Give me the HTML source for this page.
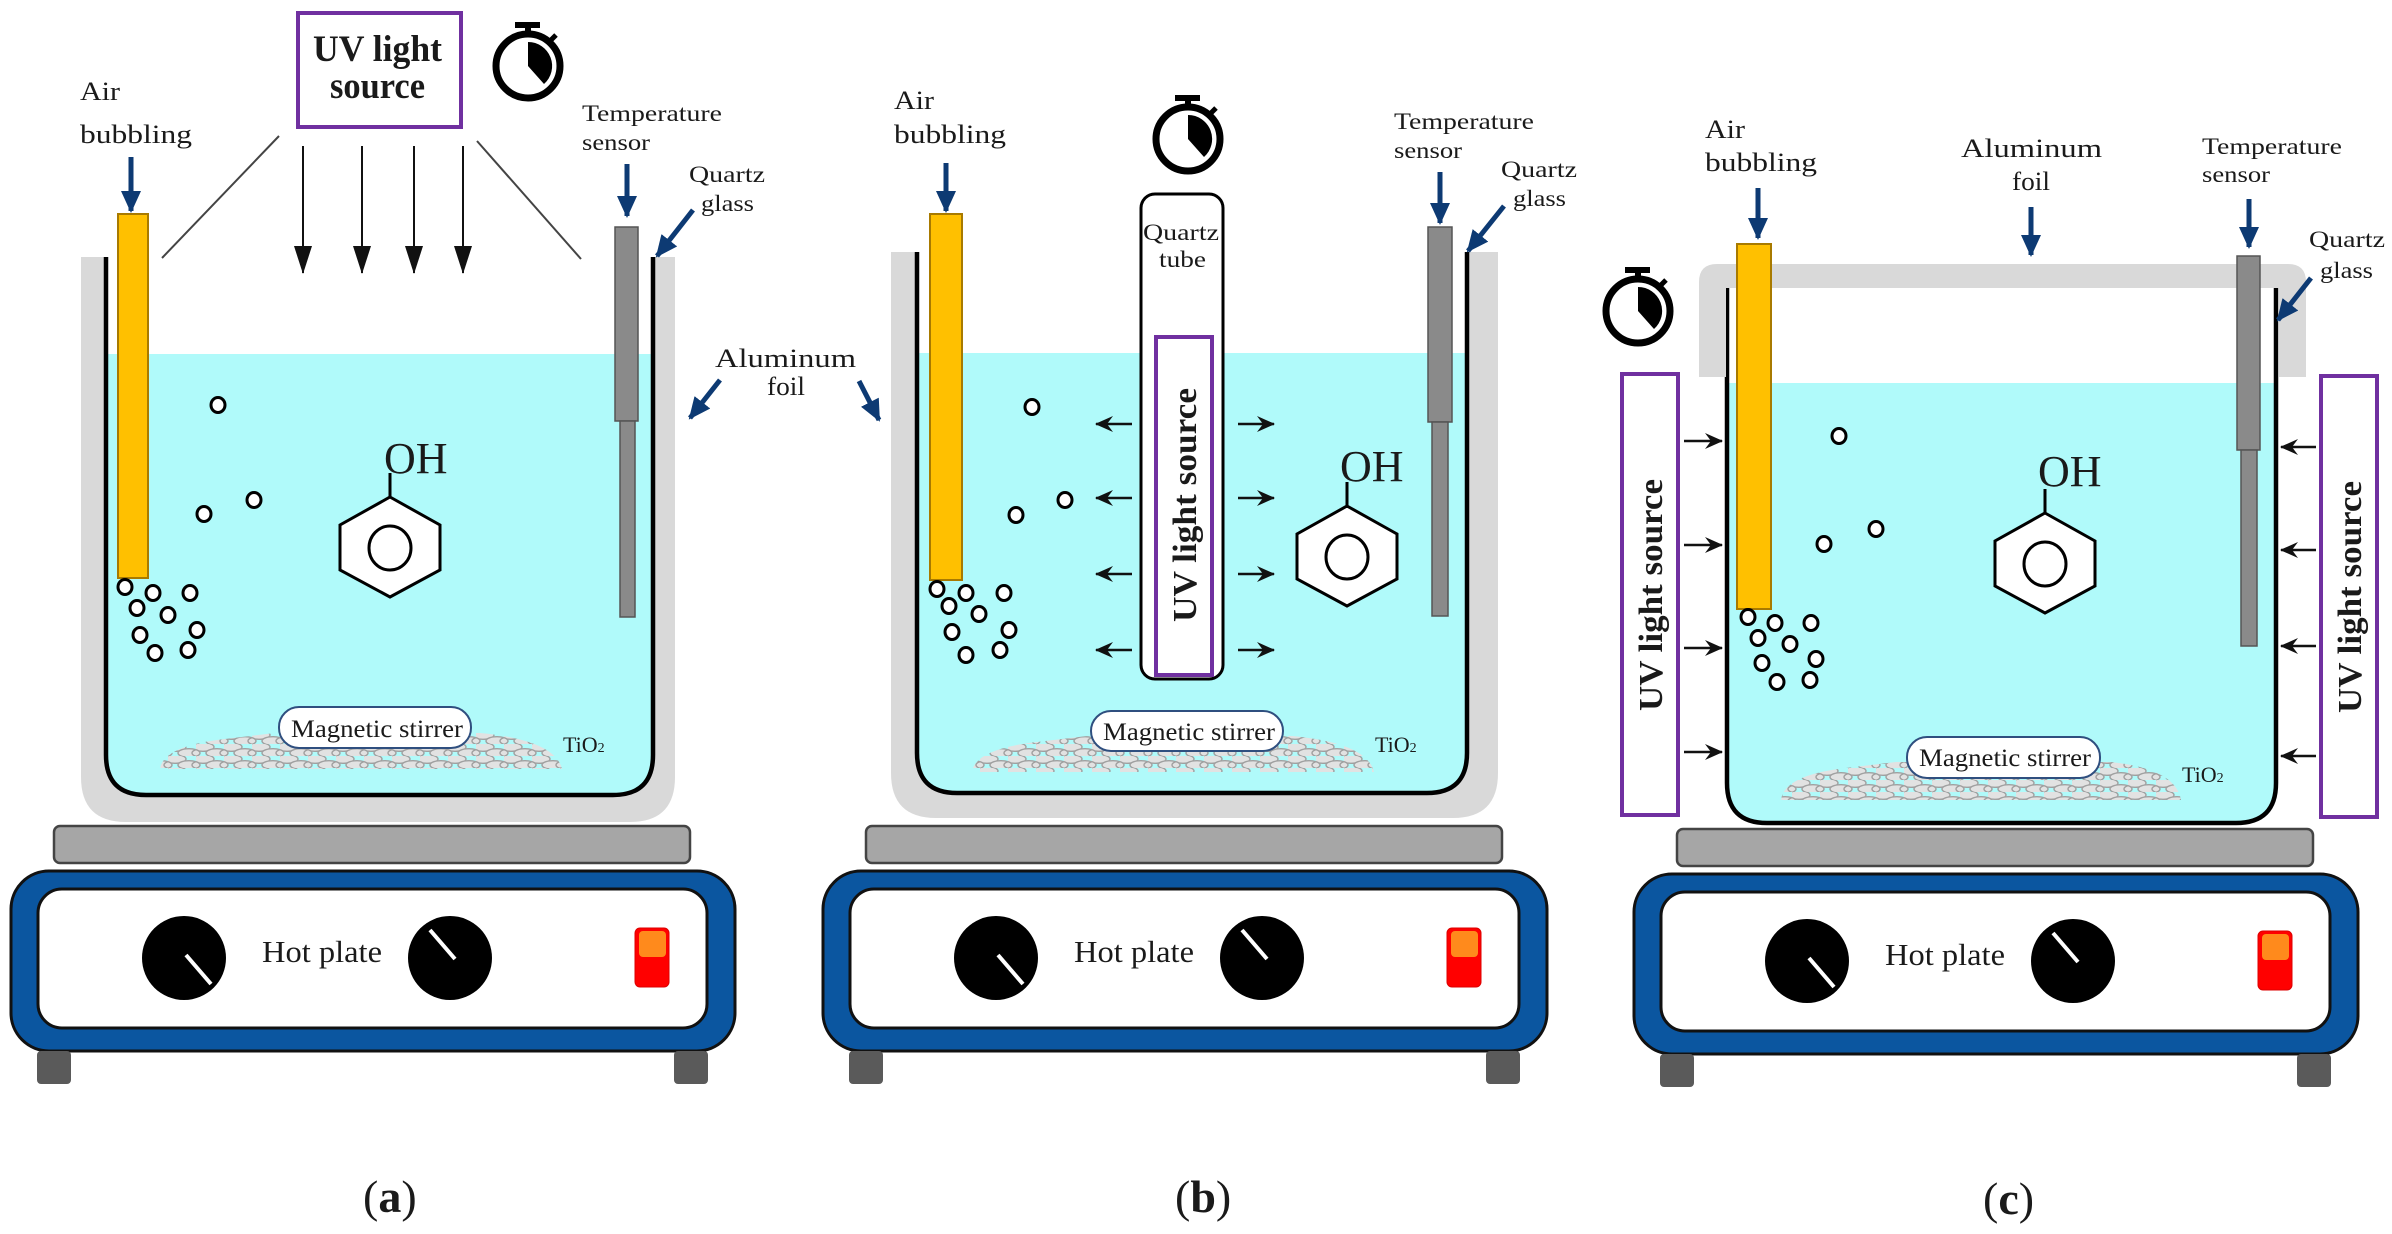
<!DOCTYPE html>
<html><head><meta charset="utf-8"><style>
html,body{margin:0;padding:0;background:#fff;}
svg{display:block;}
text{font-family:"Liberation Serif",serif;fill:#1a1a1a;}
</style></head><body>
<svg width="2392" height="1234" viewBox="0 0 2392 1234" xmlns="http://www.w3.org/2000/svg">
<defs>
<marker id="na" markerUnits="userSpaceOnUse" markerWidth="22" markerHeight="20" refX="20" refY="10" orient="auto"><path d="M0,0 L22,10 L0,20 z" fill="#0d3a73"/></marker>
<marker id="ta" markerUnits="userSpaceOnUse" markerWidth="28" markerHeight="18" refX="27" refY="9" orient="auto"><path d="M0,0 L28,9 L0,18 z" fill="#111"/></marker>
<marker id="sa" markerUnits="userSpaceOnUse" markerWidth="18" markerHeight="16" refX="17" refY="8" orient="auto"><path d="M0,0 L18,8 L0,16 L6,8 z" fill="#111"/></marker>
<pattern id="tio" patternUnits="userSpaceOnUse" width="28" height="12">
<ellipse cx="7" cy="3" rx="11" ry="4.3" fill="#e2e2e2" stroke="#a0a0a0" stroke-width="1.4"/>
<ellipse cx="21" cy="9" rx="11" ry="4.3" fill="#e2e2e2" stroke="#a0a0a0" stroke-width="1.4"/>
<ellipse cx="-7" cy="9" rx="11" ry="4.3" fill="#e2e2e2" stroke="#a0a0a0" stroke-width="1.4"/>
<ellipse cx="35" cy="9" rx="11" ry="4.3" fill="#e2e2e2" stroke="#a0a0a0" stroke-width="1.4"/>
</pattern>
<g id="sw">
<circle cx="0" cy="0" r="32" fill="#fff" stroke="#000" stroke-width="7"/>
<rect x="-13" y="-44" width="25" height="6" fill="#000"/>
<rect x="-3" y="-40" width="6" height="6" fill="#000"/>
<line x1="21" y1="-24" x2="28" y2="-31" stroke="#000" stroke-width="5"/>
<path d="M0,0 L0,-24 A24,24 0 0 1 16,18 Z" fill="#000"/>
</g>
<g id="hex">
<polygon points="0,-50 50,-22 50,23 0,50 -50,23 -50,-22" fill="#fff" stroke="#000" stroke-width="3"/>
<ellipse cx="0" cy="1" rx="21" ry="22" fill="none" stroke="#000" stroke-width="3"/>
<line x1="0" y1="-50" x2="0" y2="-74" stroke="#000" stroke-width="3"/>
</g>
<g id="hp">
<rect x="54" y="826" width="636" height="37" rx="6" fill="#a6a6a6" stroke="#444" stroke-width="2.5"/>
<rect x="11" y="871" width="724" height="180" rx="38" fill="#0b56a0" stroke="#111" stroke-width="3"/>
<rect x="38" y="889" width="669" height="139" rx="24" fill="#fff" stroke="#111" stroke-width="3"/>
<circle cx="184" cy="958" r="42" fill="#000"/>
<line x1="186" y1="955" x2="211" y2="984" stroke="#fff" stroke-width="4"/>
<circle cx="450" cy="958" r="42" fill="#000"/>
<line x1="430" y1="930" x2="455" y2="959" stroke="#fff" stroke-width="4"/>
<rect x="635" y="928" width="34" height="59" rx="5" fill="#ff0000" stroke="#d00" stroke-width="1"/>
<rect x="639" y="931" width="27" height="26" rx="4" fill="#ff8a1c"/>
<rect x="37" y="1051" width="34" height="33" rx="4" fill="#5a5a5a"/>
<rect x="674" y="1051" width="34" height="33" rx="4" fill="#5a5a5a"/>
</g>
</defs>

<!-- ================= (a) ================= -->
<path d="M81,257 L81,777 Q81,822 126,822 L630,822 Q675,822 675,777 L675,257 Z" fill="#d9d9d9"/>
<path d="M106,257 L106,755 Q106,795 146,795 L613,795 Q653,795 653,755 L653,257 Z" fill="#fff"/>
<path d="M106,354 L106,755 Q106,795 146,795 L613,795 Q653,795 653,755 L653,354 Z" fill="#b0fafa"/>
<path d="M106,257 L106,755 Q106,795 146,795 L613,795 Q653,795 653,755 L653,257" fill="none" stroke="#000" stroke-width="4.5"/>
<path d="M160,769 Q163,746 225,739 L275,733 L480,733 Q555,740 562,769 Z" fill="url(#tio)"/>
<rect x="279" y="707" width="192" height="41" rx="20" fill="#fff" stroke="#2f4f7f" stroke-width="2"/>
<text x="291" y="737" font-size="25" textLength="172" lengthAdjust="spacingAndGlyphs">Magnetic stirrer</text>
<text x="563" y="752" font-size="22">TiO<tspan font-size="14">2</tspan></text>
<rect x="118" y="214" width="30" height="364" fill="#ffc000" stroke="#a87a00" stroke-width="2"/>
<rect x="615" y="227" width="23" height="194" fill="#8a8a8a" stroke="#555" stroke-width="1.5"/>
<rect x="620" y="421" width="15" height="196" fill="#8a8a8a" stroke="#555" stroke-width="1.5"/>
<g fill="#fff" stroke="#000" stroke-width="3">
<ellipse cx="218" cy="405" rx="7" ry="7.5"/><ellipse cx="254" cy="500" rx="7" ry="7.5"/><ellipse cx="204" cy="514" rx="7" ry="7.5"/>
<ellipse cx="125" cy="587" rx="7" ry="7.5"/><ellipse cx="153" cy="593" rx="7" ry="7.5"/><ellipse cx="190" cy="593" rx="7" ry="7.5"/>
<ellipse cx="137" cy="608" rx="7" ry="7.5"/><ellipse cx="168" cy="615" rx="7" ry="7.5"/><ellipse cx="140" cy="635" rx="7" ry="7.5"/>
<ellipse cx="197" cy="630" rx="7" ry="7.5"/><ellipse cx="155" cy="653" rx="7" ry="7.5"/><ellipse cx="188" cy="650" rx="7" ry="7.5"/>
</g>
<use href="#hex" x="390" y="547"/>
<text x="384" y="473" font-size="44">OH</text>
<rect x="298" y="13" width="163" height="114" fill="#fff" stroke="#7030a0" stroke-width="4"/>
<text x="313" y="61" font-size="37" font-weight="bold" textLength="129" lengthAdjust="spacingAndGlyphs">UV light</text>
<text x="330" y="98" font-size="37" font-weight="bold" textLength="95" lengthAdjust="spacingAndGlyphs">source</text>
<use href="#sw" x="528" y="66"/>
<line x1="279" y1="136" x2="162" y2="258" stroke="#444" stroke-width="2"/>
<line x1="477" y1="141" x2="581" y2="259" stroke="#444" stroke-width="2"/>
<g stroke="#111" stroke-width="2" marker-end="url(#ta)">
<line x1="303" y1="146" x2="303" y2="273"/><line x1="362" y1="146" x2="362" y2="273"/>
<line x1="414" y1="146" x2="414" y2="273"/><line x1="463" y1="146" x2="463" y2="273"/>
</g>
<text x="80" y="100" font-size="26" textLength="40" lengthAdjust="spacingAndGlyphs">Air</text>
<text x="80" y="143" font-size="26" textLength="112" lengthAdjust="spacingAndGlyphs">bubbling</text>
<text x="582" y="121" font-size="23" textLength="140" lengthAdjust="spacingAndGlyphs">Temperature</text>
<text x="582" y="150" font-size="23" textLength="68" lengthAdjust="spacingAndGlyphs">sensor</text>
<text x="689" y="182" font-size="23" textLength="76" lengthAdjust="spacingAndGlyphs">Quartz</text>
<text x="701" y="211" font-size="23" textLength="53" lengthAdjust="spacingAndGlyphs">glass</text>
<g stroke="#0d3a73" stroke-width="5" marker-end="url(#na)">
<line x1="131" y1="157" x2="131" y2="211"/>
<line x1="627" y1="164" x2="627" y2="216"/>
<line x1="693" y1="210" x2="657" y2="256"/>
<line x1="720" y1="380" x2="690" y2="418"/>
<line x1="859" y1="381" x2="879" y2="420"/>
</g>
<text x="715" y="367" font-size="26" textLength="141" lengthAdjust="spacingAndGlyphs">Aluminum</text>
<text x="767" y="395" font-size="26" textLength="38" lengthAdjust="spacingAndGlyphs">foil</text>
<use href="#hp"/>
<text x="262" y="962" font-size="31" textLength="120" lengthAdjust="spacingAndGlyphs">Hot plate</text>
<text x="363" y="1212" font-size="46">(<tspan font-weight="bold">a</tspan>)</text>

<!-- ================= (b) ================= -->
<path d="M891,252 L891,773 Q891,818 936,818 L1453,818 Q1498,818 1498,773 L1498,252 Z" fill="#d9d9d9"/>
<path d="M917,252 L917,753 Q917,793 957,793 L1427,793 Q1467,793 1467,753 L1467,252 Z" fill="#fff"/>
<path d="M917,353 L917,753 Q917,793 957,793 L1427,793 Q1467,793 1467,753 L1467,353 Z" fill="#b0fafa"/>
<path d="M917,252 L917,753 Q917,793 957,793 L1427,793 Q1467,793 1467,753 L1467,252" fill="none" stroke="#000" stroke-width="4.5"/>
<path d="M972,772 Q975,749 1037,742 L1087,736 L1292,736 Q1367,743 1374,772 Z" fill="url(#tio)"/>
<rect x="1091" y="711" width="192" height="40" rx="20" fill="#fff" stroke="#2f4f7f" stroke-width="2"/>
<text x="1103" y="740" font-size="25" textLength="172" lengthAdjust="spacingAndGlyphs">Magnetic stirrer</text>
<text x="1375" y="752" font-size="22">TiO<tspan font-size="14">2</tspan></text>
<rect x="930" y="214" width="32" height="366" fill="#ffc000" stroke="#a87a00" stroke-width="2"/>
<rect x="1428" y="227" width="24" height="195" fill="#8a8a8a" stroke="#555" stroke-width="1.5"/>
<rect x="1432" y="422" width="16" height="194" fill="#8a8a8a" stroke="#555" stroke-width="1.5"/>
<g fill="#fff" stroke="#000" stroke-width="3">
<ellipse cx="1032" cy="407" rx="7" ry="7.5"/><ellipse cx="1065" cy="500" rx="7" ry="7.5"/><ellipse cx="1016" cy="515" rx="7" ry="7.5"/>
<ellipse cx="937" cy="589" rx="7" ry="7.5"/><ellipse cx="966" cy="593" rx="7" ry="7.5"/><ellipse cx="1004" cy="593" rx="7" ry="7.5"/>
<ellipse cx="949" cy="606" rx="7" ry="7.5"/><ellipse cx="979" cy="614" rx="7" ry="7.5"/><ellipse cx="952" cy="632" rx="7" ry="7.5"/>
<ellipse cx="1009" cy="630" rx="7" ry="7.5"/><ellipse cx="966" cy="655" rx="7" ry="7.5"/><ellipse cx="1000" cy="650" rx="7" ry="7.5"/>
</g>
<use href="#hex" x="1347" y="556"/>
<text x="1340" y="481" font-size="44">OH</text>
<rect x="1141" y="194" width="82" height="485" rx="14" fill="#fff" stroke="#000" stroke-width="3"/>
<rect x="1156" y="337" width="56" height="338" fill="#fff" stroke="#7030a0" stroke-width="4"/>
<text x="1143" y="240" font-size="23" textLength="76" lengthAdjust="spacingAndGlyphs">Quartz</text>
<text x="1159" y="267" font-size="23" textLength="47" lengthAdjust="spacingAndGlyphs">tube</text>
<text transform="translate(1196,622) rotate(-90)" font-size="34" font-weight="bold" textLength="234" lengthAdjust="spacingAndGlyphs">UV light source</text>
<use href="#sw" x="1188" y="139"/>
<g stroke="#111" stroke-width="2.5" marker-end="url(#sa)">
<line x1="1132" y1="424" x2="1096" y2="424"/><line x1="1132" y1="498" x2="1096" y2="498"/>
<line x1="1132" y1="574" x2="1096" y2="574"/><line x1="1132" y1="650" x2="1096" y2="650"/>
<line x1="1238" y1="424" x2="1274" y2="424"/><line x1="1238" y1="498" x2="1274" y2="498"/>
<line x1="1238" y1="574" x2="1274" y2="574"/><line x1="1238" y1="650" x2="1274" y2="650"/>
</g>
<text x="894" y="109" font-size="26" textLength="40" lengthAdjust="spacingAndGlyphs">Air</text>
<text x="894" y="143" font-size="26" textLength="112" lengthAdjust="spacingAndGlyphs">bubbling</text>
<text x="1394" y="129" font-size="23" textLength="140" lengthAdjust="spacingAndGlyphs">Temperature</text>
<text x="1394" y="158" font-size="23" textLength="68" lengthAdjust="spacingAndGlyphs">sensor</text>
<text x="1501" y="177" font-size="23" textLength="76" lengthAdjust="spacingAndGlyphs">Quartz</text>
<text x="1513" y="206" font-size="23" textLength="53" lengthAdjust="spacingAndGlyphs">glass</text>
<g stroke="#0d3a73" stroke-width="5" marker-end="url(#na)">
<line x1="946" y1="163" x2="946" y2="211"/>
<line x1="1440" y1="172" x2="1440" y2="223"/>
<line x1="1504" y1="206" x2="1468" y2="251"/>
</g>
<use href="#hp" x="812"/>
<text x="1074" y="962" font-size="31" textLength="120" lengthAdjust="spacingAndGlyphs">Hot plate</text>
<text x="1175" y="1212" font-size="46">(<tspan font-weight="bold">b</tspan>)</text>

<!-- ================= (c) ================= -->
<path d="M1727,288 L1727,783 Q1727,823 1767,823 L2236,823 Q2276,823 2276,783 L2276,288 Z" fill="#fff"/>
<path d="M1727,383 L1727,783 Q1727,823 1767,823 L2236,823 Q2276,823 2276,783 L2276,383 Z" fill="#b0fafa"/>
<path d="M1727,288 L1727,783 Q1727,823 1767,823 L2236,823 Q2276,823 2276,783 L2276,288" fill="none" stroke="#000" stroke-width="4.5"/>
<path d="M1699,377 L1699,282 Q1699,264 1717,264 L2288,264 Q2306,264 2306,282 L2306,377 L2279,377 L2279,288 L1726,288 L1726,377 Z" fill="#d9d9d9"/>
<path d="M1781,800 Q1784,775 1846,768 L1896,762 L2111,762 Q2176,769 2181,800 Z" fill="url(#tio)"/>
<rect x="1907" y="737" width="193" height="41" rx="20" fill="#fff" stroke="#2f4f7f" stroke-width="2"/>
<text x="1919" y="766" font-size="25" textLength="172" lengthAdjust="spacingAndGlyphs">Magnetic stirrer</text>
<text x="2182" y="782" font-size="22">TiO<tspan font-size="14">2</tspan></text>
<rect x="1737" y="244" width="34" height="365" fill="#ffc000" stroke="#a87a00" stroke-width="2"/>
<rect x="2237" y="256" width="23" height="194" fill="#8a8a8a" stroke="#555" stroke-width="1.5"/>
<rect x="2241" y="450" width="16" height="196" fill="#8a8a8a" stroke="#555" stroke-width="1.5"/>
<g fill="#fff" stroke="#000" stroke-width="3">
<ellipse cx="1839" cy="436" rx="7" ry="7.5"/><ellipse cx="1876" cy="529" rx="7" ry="7.5"/><ellipse cx="1824" cy="544" rx="7" ry="7.5"/>
<ellipse cx="1748" cy="617" rx="7" ry="7.5"/><ellipse cx="1775" cy="623" rx="7" ry="7.5"/><ellipse cx="1811" cy="623" rx="7" ry="7.5"/>
<ellipse cx="1758" cy="638" rx="7" ry="7.5"/><ellipse cx="1790" cy="644" rx="7" ry="7.5"/><ellipse cx="1762" cy="663" rx="7" ry="7.5"/>
<ellipse cx="1816" cy="659" rx="7" ry="7.5"/><ellipse cx="1777" cy="682" rx="7" ry="7.5"/><ellipse cx="1810" cy="680" rx="7" ry="7.5"/>
</g>
<use href="#hex" x="2045" y="563"/>
<text x="2038" y="486" font-size="44">OH</text>
<rect x="1622" y="374" width="56" height="441" fill="#fff" stroke="#7030a0" stroke-width="4"/>
<rect x="2321" y="376" width="56" height="441" fill="#fff" stroke="#7030a0" stroke-width="4"/>
<text transform="translate(1662,711) rotate(-90)" font-size="34" font-weight="bold" textLength="232" lengthAdjust="spacingAndGlyphs">UV light source</text>
<text transform="translate(2361,713) rotate(-90)" font-size="34" font-weight="bold" textLength="232" lengthAdjust="spacingAndGlyphs">UV light source</text>
<use href="#sw" x="1638" y="311"/>
<g stroke="#111" stroke-width="2.5" marker-end="url(#sa)">
<line x1="1684" y1="441" x2="1722" y2="441"/><line x1="1684" y1="545" x2="1722" y2="545"/>
<line x1="1684" y1="648" x2="1722" y2="648"/><line x1="1684" y1="752" x2="1722" y2="752"/>
<line x1="2316" y1="447" x2="2281" y2="447"/><line x1="2316" y1="550" x2="2281" y2="550"/>
<line x1="2316" y1="646" x2="2281" y2="646"/><line x1="2316" y1="756" x2="2281" y2="756"/>
</g>
<text x="1705" y="138" font-size="26" textLength="40" lengthAdjust="spacingAndGlyphs">Air</text>
<text x="1705" y="171" font-size="26" textLength="112" lengthAdjust="spacingAndGlyphs">bubbling</text>
<text x="1961" y="157" font-size="26" textLength="141" lengthAdjust="spacingAndGlyphs">Aluminum</text>
<text x="2012" y="190" font-size="26" textLength="38" lengthAdjust="spacingAndGlyphs">foil</text>
<text x="2202" y="154" font-size="23" textLength="140" lengthAdjust="spacingAndGlyphs">Temperature</text>
<text x="2202" y="182" font-size="23" textLength="68" lengthAdjust="spacingAndGlyphs">sensor</text>
<text x="2309" y="247" font-size="23" textLength="76" lengthAdjust="spacingAndGlyphs">Quartz</text>
<text x="2320" y="278" font-size="23" textLength="53" lengthAdjust="spacingAndGlyphs">glass</text>
<g stroke="#0d3a73" stroke-width="5" marker-end="url(#na)">
<line x1="1758" y1="188" x2="1758" y2="238"/>
<line x1="2031" y1="207" x2="2031" y2="255"/>
<line x1="2249" y1="199" x2="2249" y2="247"/>
<line x1="2311" y1="278" x2="2278" y2="320"/>
</g>
<g transform="translate(1623,3)"><use href="#hp"/></g>
<text x="1885" y="965" font-size="31" textLength="120" lengthAdjust="spacingAndGlyphs">Hot plate</text>
<text x="1983" y="1214" font-size="46">(<tspan font-weight="bold">c</tspan>)</text>
</svg>
</body></html>
